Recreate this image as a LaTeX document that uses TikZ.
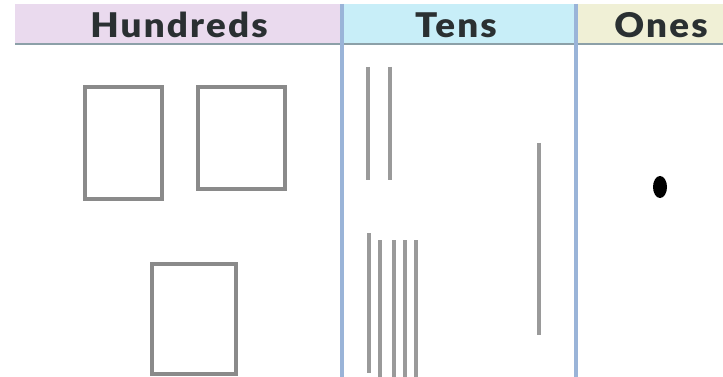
\documentclass[tikz,border=0pt]{standalone}
\usepackage{fontspec}
\setmainfont{Lato}
\newfontfamily\headfont[LetterSpace=6]{Lato Black}
\definecolor{hundredsbg}{HTML}{EADAEE}
\definecolor{tensbg}{HTML}{C8EEF8}
\definecolor{onesbg}{HTML}{F0F0D6}
\definecolor{divider}{HTML}{9AB4D8}
\definecolor{headline}{HTML}{8CA0A8}
\definecolor{blockgray}{HTML}{8A8A8A}
\definecolor{rodgray}{HTML}{9A9A9A}
\definecolor{headtext}{HTML}{2A3032}
\tikzset{
  flat/.style={x=1pt,y=-1pt},
  hundredblock/.style={draw=blockgray, line width=3.8pt, fill=white, inner sep=0pt},
  rod/.style={draw=rodgray, line width=3.4pt},
  headlabel/.style={font=\headfont\fontsize{34}{34}\selectfont, text=headtext, inner sep=0pt, xscale=1.08, anchor=base},
  colline/.style={draw=divider, line width=3.5pt},
}
\begin{document}
\begin{tikzpicture}[flat]
\useasboundingbox (0,0) rectangle (723,377);
% header backgrounds
\fill[hundredsbg] (15,4) rectangle (342,44);
\fill[tensbg] (342,4) rectangle (576,44);
\fill[onesbg] (576,4) rectangle (723,44);
\draw[headline, line width=2.2pt] (15,44) -- (723,44);
% dividers
\draw[colline] (342,4) -- (342,377);
\draw[colline] (576,4) -- (576,377);
% header labels
\node[headlabel] (hh) at (179,38) {Hundreds};
\node[headlabel] (ht) at (456,38) {Tens};
\node[headlabel] (ho) at (661,38) {Ones};
% hundreds blocks
\node[hundredblock, minimum width=77pt, minimum height=112pt] (h1) at (123.5,143) {};
\node[hundredblock, minimum width=87pt, minimum height=102pt] (h2) at (241.5,138) {};
\node[hundredblock, minimum width=84pt, minimum height=110pt] (h3) at (194,319) {};
% tens rods
\draw[rod] (368,67) -- (368,180);
\draw[rod] (390,67) -- (390,180);
\draw[rod] (369,233) -- (369,373);
\draw[rod] (380,240) -- (380,377);
\draw[rod] (394,240) -- (394,377);
\draw[rod] (405,240) -- (405,377);
\draw[rod] (416,240) -- (416,377);
\draw[rod] (539,143) -- (539,335);
% ones
\fill[black] (660,187) ellipse (7 and 11);
\end{tikzpicture}
\end{document}
